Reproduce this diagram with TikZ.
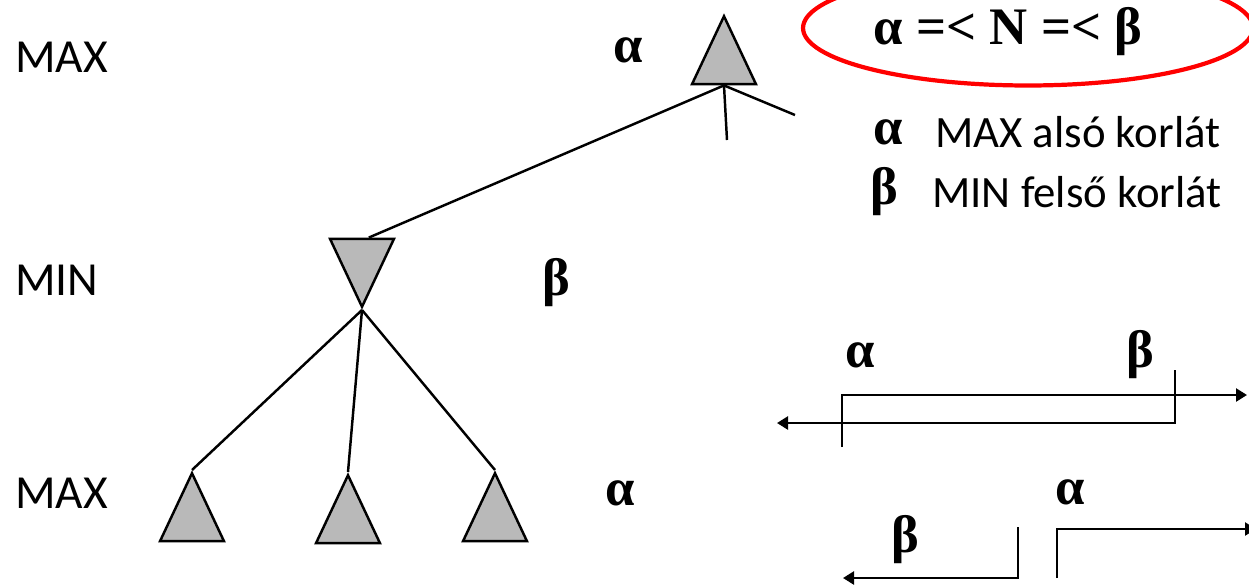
\documentclass[tikz,border=0pt]{standalone}
\usepackage{fontspec}
\setmainfont{Carlito}
\newfontfamily\grkfont{Liberation Serif}
\usetikzlibrary{arrows.meta,shapes.geometric,calc}

\begin{document}
\begin{tikzpicture}[x=0.02cm,y=-0.02cm,
   tri/.style={isosceles triangle,isosceles triangle stretches,draw,line width=1.4pt,
               fill=gray!55,minimum width=1.28cm,minimum height=1.36cm,inner sep=0pt,
               shape border rotate=90,anchor=apex},
   edge/.style={line width=1.4pt},
   level/.style={font=\fontsize{27}{30}\selectfont,anchor=west,inner sep=0pt},
   greek/.style={font=\grkfont\bfseries\fontsize{30}{32}\selectfont,inner sep=0pt},
   legend/.style={font=\fontsize{25.5}{28}\selectfont,anchor=west,inner sep=0pt},
   numline/.style={line width=1.4pt,-{Triangle[length=2.2mm,width=2.6mm]}}]
  \useasboundingbox (0,0) rectangle (1249,586);
  % levels
  \node[level] (lmax1) at (15,57) {MAX};
  \node[level] (lmin) at (15,280) {MIN};
  \node[level] (lmax2) at (15,493) {MAX};
  % tree
  \node[tri] (root) at (724,13) {};
  \node[tri,shape border rotate=270] (mn) at (362,310) {};
  \node[tri] (c1) at (192,470) {};
  \node[tri] (c2) at (348,472) {};
  \node[tri] (c3) at (495,470) {};
  \coordinate (rb) at ($(root.left corner)!0.5!(root.right corner)$);
  \coordinate (mt) at ($(mn.left corner)!0.4!(mn.right corner)$);
  \coordinate (rdown) at (727,140);
  \coordinate (rright) at (795,115);
  \draw[edge] (rb) -- (mt);
  \draw[edge] (rb) -- (rdown);
  \draw[edge] (rb) -- (rright);
  \foreach \c in {c1,c2,c3}
    \draw[edge] (mn.apex) -- (\c.apex);
  \node[greek] (ar) at (628,50) {α};
  \node[greek] (bm) at (556,283) {β};
  \node[greek] (ab) at (620,493) {α};
  % bounds
  \node[ellipse,draw=red,line width=2.4pt,minimum width=9cm,minimum height=2.3cm] (eq) at (1028,28) {};
  \node[greek] (eqtxt) at (1008,32) {α =< N =< β};
  \node[greek] (la) at (888,132) {α};
  \node[legend] (lat) at (935,132) {MAX alsó korlát};
  \node[greek] (lb) at (884,192) {β};
  \node[legend] (lbt) at (932,192) {MIN felső korlát};
  % number lines
  \coordinate (ua) at (842,447);
  \coordinate (ur) at (1247,395);
  \coordinate (ub) at (1175,370);
  \coordinate (ul) at (777,423);
  \draw[numline] (ua) |- (ur);
  \draw[numline] (ub) |- (ul);
  \node[greek] (na) at (860,355) {α};
  \node[greek] (nb) at (1140,355) {β};
  \coordinate (lbe) at (1018,527);
  \coordinate (lle) at (843,578);
  \coordinate (rae) at (1057,578);
  \coordinate (rre) at (1256,529);
  \draw[numline] (lbe) |- (lle);
  \draw[numline] (rae) |- (rre);
  \node[greek] (nb2) at (905,540) {β};
  \node[greek] (na2) at (1070,492) {α};
\end{tikzpicture}
\end{document}
